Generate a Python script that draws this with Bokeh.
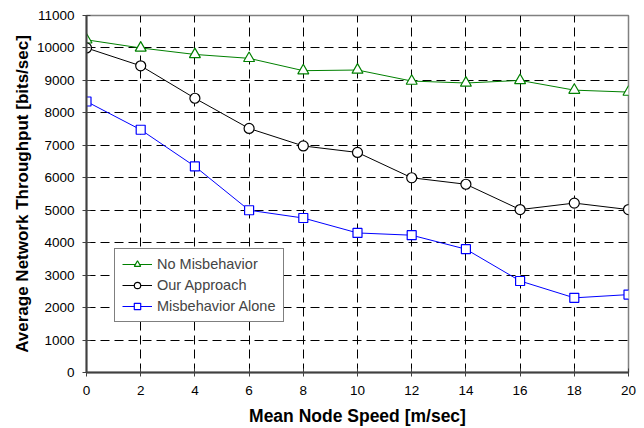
from bokeh.plotting import figure
from bokeh.models import Range1d, FixedTicker, Legend, LegendItem
from bokeh.embed import file_html
from bokeh.resources import INLINE

speed = [0, 2, 4, 6, 8, 10, 12, 14, 16, 18, 20]
no_misbehavior = [10250, 10000, 9800, 9680, 9300, 9320, 8980, 8920, 9000, 8700, 8640]
our_approach = [10000, 9450, 8450, 7520, 6980, 6780, 6000, 5800, 5020, 5220, 5020]
misbehavior_alone = [8350, 7480, 6350, 5000, 4760, 4300, 4230, 3800, 2820, 2300, 2400]
y_ticks = list(range(0, 11001, 1000))
x_ticks = list(range(0, 21, 2))

FONT = "Liberation Sans"

p = figure(width=644, height=428, output_backend="svg", toolbar_location=None,
           x_range=Range1d(0, 20), y_range=Range1d(0, 11000),
           min_border_left=86, min_border_right=16, min_border_top=15, min_border_bottom=56)
p.background_fill_color = "white"
p.border_fill_color = "white"
p.outline_line_color = "#808080"
p.outline_line_width = 1.5

for ax in (p.xaxis, p.yaxis):
    ax.axis_line_color = "#404040"
    ax.axis_line_width = 2
    ax.major_tick_line_color = "#404040"
    ax.major_tick_in = 4
    ax.major_tick_out = 4
    ax.minor_tick_line_color = None
    ax.major_label_text_font = FONT
    ax.major_label_text_font_size = "13.5px"
    ax.major_label_text_color = "black"
    ax.axis_label_text_font = FONT
    ax.axis_label_text_font_style = "bold"
    ax.axis_label_text_color = "black"

p.xaxis.ticker = FixedTicker(ticks=x_ticks)
p.yaxis.ticker = FixedTicker(ticks=y_ticks)
p.xaxis.axis_label = "Mean Node Speed [m/sec]"
p.yaxis.axis_label = "Average Network Throughput [bits/sec]"
p.xaxis.axis_label_text_font_size = "17.5px"
p.yaxis.axis_label_text_font_size = "17px"
p.xaxis.axis_label_standoff = 8
p.yaxis.axis_label_standoff = 2
p.xaxis.major_label_standoff = 9
p.yaxis.major_label_standoff = 8

for g in (p.xgrid, p.ygrid):
    g.grid_line_color = "black"
    g.grid_line_dash = "9 5"
    g.grid_line_width = 1

r1 = p.line(speed, no_misbehavior, line_color="#008000", line_width=1)
m1 = p.scatter(speed, no_misbehavior, marker="triangle", size=11, fill_color="white",
               line_color="#008000", line_width=1.2)
r2 = p.line(speed, our_approach, line_color="black", line_width=1)
m2 = p.scatter(speed, our_approach, marker="circle", size=10, fill_color="white",
               line_color="black", line_width=1.2)
r3 = p.line(speed, misbehavior_alone, line_color="#0000ff", line_width=1)
m3 = p.scatter(speed, misbehavior_alone, marker="square", size=9, fill_color="white",
               line_color="#0000ff", line_width=1.2)

legend = Legend(items=[
    LegendItem(label="No Misbehavior", renderers=[r1, m1]),
    LegendItem(label="Our Approach", renderers=[r2, m2]),
    LegendItem(label="Misbehavior Alone", renderers=[r3, m3]),
], location=(28, 50))
legend.label_text_font = FONT
legend.label_text_font_size = "14.5px"
legend.label_height = 16
legend.glyph_height = 16
legend.glyph_width = 30
legend.label_standoff = 5
legend.spacing = 5
legend.padding = 7
legend.margin = 0
legend.border_line_color = "black"
legend.border_line_width = 1
legend.background_fill_alpha = 1
p.add_layout(legend)

open("out.html", "w").write(file_html(p, INLINE))
